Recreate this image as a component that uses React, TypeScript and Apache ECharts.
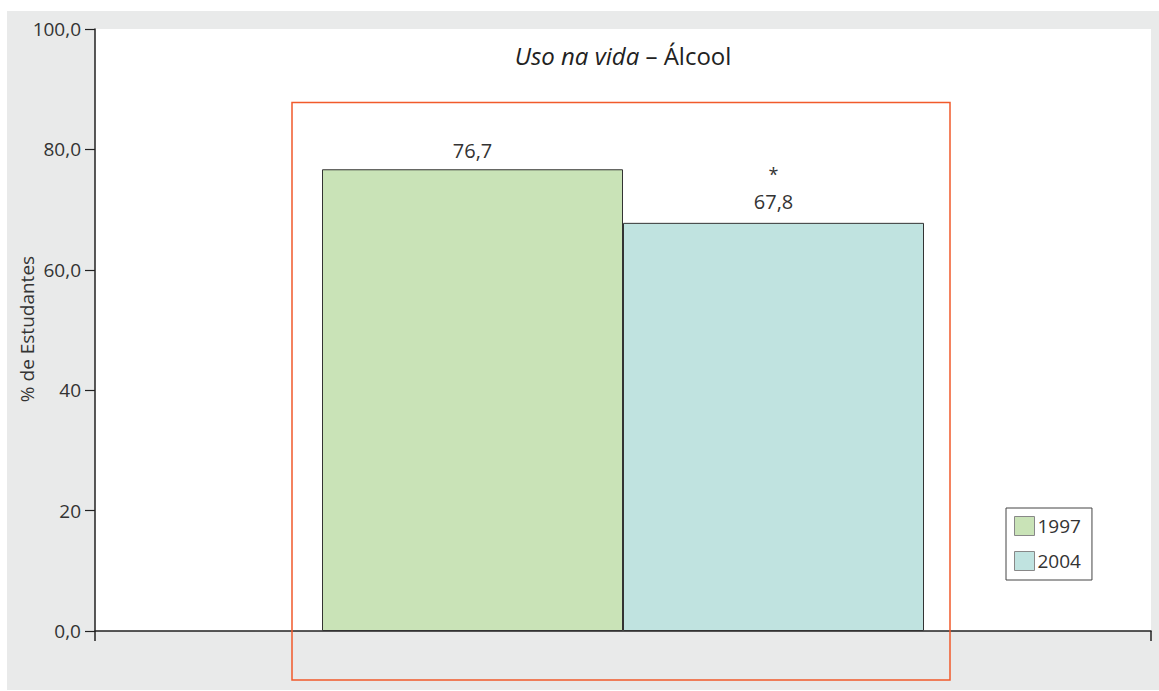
import React, { useEffect, useRef } from "react";
import * as echarts from "echarts";

const categories = ["Álcool"];
const years = ["1997", "2004"];
const values1997 = [76.7];
const values2004 = [67.8];
const valueLabels1997 = ["76,7"];
const valueLabels2004 = ["67,8"];
const significance2004 = ["*"];
const yTicks = [0, 20, 40, 60, 80, 100];
const yTickLabels = ["0,0", "20", "40", "60,0", "80,0", "100,0"];
const colors = ["#c9e3b7", "#c0e3e0"];

const FONT = "'Open Sans', 'Noto Sans', sans-serif";

export default function App() {
  const ref = useRef<HTMLDivElement>(null);
  useEffect(() => {
    if (!ref.current) return;
    const chart = echarts.init(ref.current, undefined, { renderer: "svg" });
    chart.setOption({
      animation: false,
      textStyle: { fontFamily: FONT },
      grid: {
        show: true,
        left: 95,
        top: 29,
        right: 8,
        bottom: 60,
        backgroundColor: "#ffffff",
        borderWidth: 0,
      },
      title: {
        text: "{i|Uso na vida} – Álcool",
        left: 618,
        top: 38,
        textAlign: "center",
        textStyle: {
          fontFamily: FONT,
          fontSize: 24,
          fontWeight: "normal",
          color: "#222",
          rich: {
            i: { fontFamily: FONT, fontSize: 24, fontStyle: "italic", color: "#222" },
          },
        },
      },
      legend: {
        orient: "vertical",
        left: 1006,
        top: 508,
        padding: [8, 11, 9, 8],
        itemWidth: 20,
        itemHeight: 19,
        itemGap: 15,
        icon: "rect",
        backgroundColor: "#ffffff",
        borderColor: "#444",
        borderWidth: 1,
        borderRadius: 0,
        itemStyle: { borderColor: "#888", borderWidth: 1 },
        textStyle: { fontFamily: FONT, fontSize: 19, color: "#333", padding: [0, 0, 0, -2] },
        data: years,
      },
      xAxis: {
        type: "category",
        data: categories,
        axisLine: { lineStyle: { color: "#222", width: 1.5 } },
        axisTick: { show: true, length: 10, lineStyle: { color: "#222", width: 1.5 } },
        axisLabel: { show: false },
        splitLine: { show: false },
      },
      yAxis: {
        type: "value",
        min: 0,
        max: 100,
        interval: 20,
        axisLine: { show: true, lineStyle: { color: "#222", width: 1.5 } },
        axisTick: { show: true, length: 10, lineStyle: { color: "#222", width: 1.2 } },
        splitLine: { show: false },
        axisLabel: {
          fontFamily: FONT,
          fontSize: 19,
          color: "#333",
          margin: 14,
          formatter: (v: number) => {
            const idx = yTicks.indexOf(v);
            return idx >= 0 ? yTickLabels[idx] : "";
          },
        },
      },
      series: [
        {
          name: years[0],
          type: "bar",
          data: values1997,
          barWidth: 301,
          barGap: "0%",
          itemStyle: { color: colors[0], borderColor: "#333", borderWidth: 1 },
          label: {
            show: true,
            position: "top",
            distance: 9,
            fontFamily: FONT,
            fontSize: 20,
            color: "#333",
            formatter: (p: any) => valueLabels1997[p.dataIndex],
          },
        },
        {
          name: years[1],
          type: "bar",
          data: values2004,
          barWidth: 301,
          barGap: "0%",
          itemStyle: { color: colors[1], borderColor: "#333", borderWidth: 1 },
          label: {
            show: true,
            position: "top",
            distance: 9,
            fontFamily: FONT,
            fontSize: 20,
            color: "#333",
            formatter: (p: any) =>
              "{s|" + significance2004[p.dataIndex] + "}\n{v|" + valueLabels2004[p.dataIndex] + "}",
            rich: {
              s: { fontFamily: FONT, fontSize: 18, color: "#333", lineHeight: 32 },
              v: { fontFamily: FONT, fontSize: 20, color: "#333", lineHeight: 24 },
            },
          },
        },
      ],
      graphic: [
        {
          type: "rect",
          z: -100,
          silent: true,
          shape: { x: 7, y: 11, width: 1152, height: 679 },
          style: { fill: "#e9eaea" },
        },
        {
          type: "rect",
          z: 100,
          silent: true,
          shape: { x: 292, y: 102.5, width: 658, height: 577.5 },
          style: { fill: "none", stroke: "#f15a2b", lineWidth: 1.5 },
        },
        {
          type: "text",
          z: 100,
          x: 27,
          y: 329,
          rotation: Math.PI / 2,
          style: {
            text: "% de Estudantes",
            fontFamily: FONT,
            fontSize: 19,
            fill: "#333",
            align: "center",
            verticalAlign: "middle",
          },
        },
      ],
    });
    return () => chart.dispose();
  }, []);
  return (
    <div
      ref={ref}
      style={{ position: "fixed", left: 0, top: 0, width: 1159, height: 691, background: "#fff" }}
    />
  );
}
